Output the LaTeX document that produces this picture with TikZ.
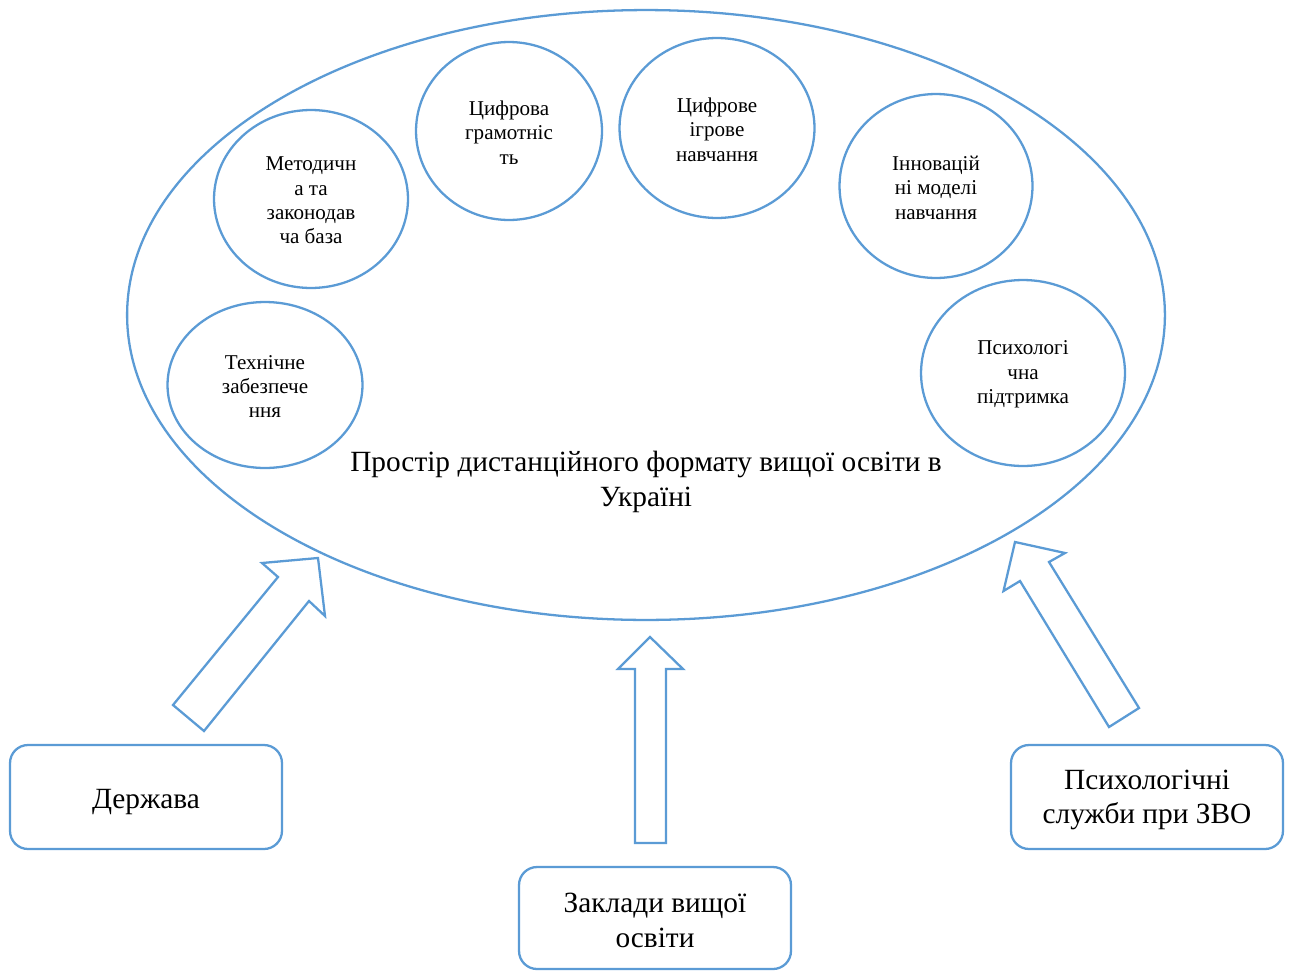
\documentclass[tikz,border=0pt]{standalone}
\usepackage{fontspec}
\setmainfont{Liberation Serif}
\usetikzlibrary{shapes.geometric}
\definecolor{bl}{HTML}{5B9BD5}
\begin{document}
\begin{tikzpicture}[x=0.02cm,y=-0.02cm,line width=1.3pt,
  ring/.style={draw=bl,ellipse,inner sep=0pt},
  box/.style={draw=bl,rounded corners=0.36cm,minimum width=5.44cm,minimum height=2.08cm},
  txt/.style={align=center,inner sep=0pt},
  small/.style={txt,font=\fontsize{12}{13.9}\selectfont},
  big/.style={txt,font=\fontsize{16.7}{19.6}\selectfont},
  barrow/.style={draw=bl,line join=miter}]
\useasboundingbox (0,0) rectangle (1290,970);
\node[draw=bl,ellipse,minimum width=20.76cm,minimum height=12.2cm] (space) at (646,315) {};
\node[big] (title) at (646,482) {Простір дистанційного формату вищої освіти в\\Україні};
\node[ring,minimum width=3.88cm,minimum height=3.56cm] (meth) at (311,199) {};
\node[small] (metht) at ([yshift=-0.03cm]meth.center) {Методичн\\а та\\законодав\\ча база};
\node[ring,minimum width=3.72cm,minimum height=3.56cm] (lit) at (509,131) {};
\node[small] (litt) at ([yshift=-0.03cm]lit.center) {Цифрова\\грамотніс\\ть};
\node[ring,minimum width=3.9cm,minimum height=3.6cm] (game) at (717,128) {};
\node[small] (gamet) at ([yshift=-0.03cm]game.center) {Цифрове\\ігрове\\навчання};
\node[ring,minimum width=3.86cm,minimum height=3.68cm] (innov) at (936,186) {};
\node[small] (innovt) at ([yshift=-0.03cm]innov.center) {Інновацій\\ні моделі\\навчання};
\node[ring,minimum width=4.08cm,minimum height=3.72cm] (psy) at (1023,373) {};
\node[small] (psyt) at ([yshift=-0.03cm]psy.center) {Психологі\\чна\\підтримка};
\node[ring,minimum width=3.9cm,minimum height=3.32cm] (tech) at (265,385) {};
\node[small] (techt) at ([yshift=-0.03cm]tech.center) {Технічне\\забезпече\\ння};
\node[box] (state) at (146,797) {};
\node[big] (statet) at ([yshift=-0.1cm]state.center) {Держава};
\node[box,minimum height=2.04cm] (uni) at (655,918) {};
\node[big] (unit) at ([yshift=-0.05cm]uni.center) {Заклади вищої\\освіти};
\node[box] (psyserv) at (1147,797) {};
\node[big] (psyservt) at ([yshift=-0.06cm]psyserv.center) {Психологічні\\служби при ЗВО};
\draw[barrow] (173,705) -- (278,577) -- (262,563) -- (318,558) -- (325,616) -- (309,601) -- (204,731) -- cycle;
\draw[barrow] (635,843) -- (635,669) -- (618,669) -- (650,637) -- (683,669) -- (666,669) -- (666,843) -- cycle;
\draw[barrow] (1139,708) -- (1049,562) -- (1065,553) -- (1015,542) -- (1003.5,591) -- (1020,581) -- (1109,727) -- cycle;
\end{tikzpicture}
\end{document}
